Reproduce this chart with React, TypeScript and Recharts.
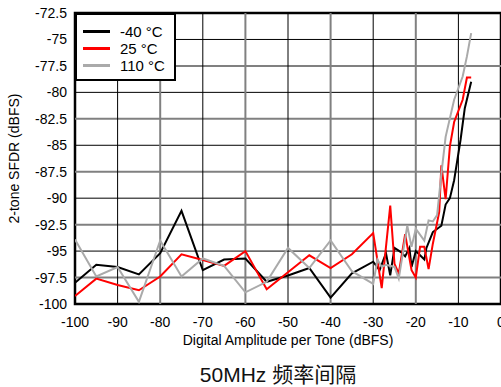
import React from "react";
import {
  LineChart,
  Line,
  XAxis,
  YAxis,
  ReferenceLine,
  ReferenceArea,
  Label,
} from "recharts";

const xTicks = [-100, -90, -80, -70, -60, -50, -40, -30, -20, -10, 0];
const yTicks = [-100, -97.5, -95, -92.5, -90, -87.5, -85, -82.5, -80, -77.5, -75, -72.5];

const seriesNames = ["-40 °C", "25 °C", "110 °C"];
const seriesColors = ["#000000", "#ff0000", "#aaaaaa"];

const coldX = [-100, -95, -90, -85, -80, -75, -70, -65, -60, -55, -50, -45, -40, -35, -30, -28.5, -27, -26, -25, -23.5, -22.5, -21.5, -21, -20, -19, -18, -17.5, -16, -14, -13, -12, -11, -9.5, -8.5, -7];
const coldY = [-98.0, -96.3, -96.5, -97.2, -95.2, -91.2, -96.8, -95.8, -95.7, -97.9, -97.3, -96.6, -99.4, -97.1, -96.0, -96.8, -95.2, -97.3, -94.7, -95.1, -95.5, -94.7, -96.5, -95.0, -95.4, -95.8, -94.7, -93.2, -92.6, -90.6, -90.0, -88.3, -84.5, -81.5, -79.0];

const roomX = [-100, -95, -90, -85, -80, -75, -70, -65, -60, -55, -50, -45, -40, -35, -30, -28, -26, -25, -24, -22.5, -21, -20, -19, -18, -17, -16, -14.5, -14, -13, -12, -11, -9, -8, -7];
const roomY = [-99.25, -97.6, -98.2, -98.7, -97.4, -95.3, -95.85, -96.4, -95.0, -98.6, -97.0, -95.4, -96.6, -95.3, -93.3, -98.5, -90.7, -96.2, -97.1, -93.4, -96.8, -97.5, -94.6, -94.6, -96.7, -94.3, -91.3, -86.9, -90.1, -85.1, -82.8, -80.7, -78.6, -78.6];

const hotX = [-100, -95, -90, -85, -80, -75, -70, -65, -60, -55, -50, -45, -40, -35, -30, -29, -28, -27, -25, -24, -22, -21, -20, -18, -17, -16, -15, -14, -13, -11, -9, -8, -7];
const hotY = [-93.9, -97.4, -96.5, -99.8, -94.0, -97.4, -95.7, -96.4, -98.9, -97.9, -94.7, -96.6, -94.0, -96.9, -98.1, -95.8, -96.5, -96.3, -96.5, -97.6, -92.6, -94.6, -92.9, -94.0, -92.1, -92.2, -91.6, -87.7, -84.2, -80.7, -78.5, -76.6, -74.4];

const toRows = (xs: number[], ys: number[]) => xs.map((x, i) => ({ x, y: ys[i] }));
const series = [toRows(coldX, coldY), toRows(roomX, roomY), toRows(hotX, hotY)];

const FONT = "'Liberation Sans', Arial, sans-serif";

export default function App() {
  return (
    <div
      style={{
        position: "absolute",
        left: 0,
        top: 0,
        width: 501,
        height: 387,
        overflow: "hidden",
        background: "#fff",
        fontFamily: FONT,
      }}
    >
      <LineChart
        width={540}
        height={387}
        margin={{ top: 13, right: 39, bottom: 42, left: 0 }}
        style={{ fontFamily: FONT }}
      >
        <XAxis
          dataKey="x"
          type="number"
          domain={[-100, 0]}
          ticks={xTicks}
          allowDataOverflow
          axisLine={false}
          tickLine={false}
          tickMargin={7}
          height={41}
          tick={{ fontSize: 14, fill: "#000" }}
        >
          <Label
            value="Digital Amplitude per Tone (dBFS)"
            position="insideBottom"
            offset={0}
            style={{ fontSize: 14, fill: "#000" }}
          />
        </XAxis>
        <YAxis
          type="number"
          domain={[-100, -72.5]}
          ticks={yTicks}
          allowDataOverflow
          axisLine={false}
          tickLine={false}
          width={75}
          interval={0}
          tick={{ fontSize: 14, fill: "#000" }}
        >
          <Label
            content={({ viewBox }: any) => {
              const cy = viewBox.y + viewBox.height / 2;
              return (
                <text
                  x={14}
                  y={cy}
                  transform={`rotate(-90 14 ${cy})`}
                  textAnchor="middle"
                  dominantBaseline="central"
                  fontSize={14}
                  fill="#000"
                >
                  2-tone SFDR (dBFS)
                </text>
              );
            }}
          />
        </YAxis>
        {yTicks.slice(1, -1).map((v) => (
          <ReferenceLine
            key={"h" + v}
            y={v}
            stroke={v % 5 === 0 ? "#000" : "#808080"}
            strokeWidth={v % 5 === 0 ? 1 : 2}
          />
        ))}
        {xTicks.slice(1, -1).map((v, i) => (
          <ReferenceLine
            key={"v" + v}
            x={v}
            stroke={i % 2 === 0 ? "#000" : "#808080"}
            strokeWidth={i % 2 === 0 ? 1 : 2}
          />
        ))}
        {series.map((d, i) => (
          <Line
            key={seriesNames[i]}
            data={d}
            dataKey="y"
            name={seriesNames[i]}
            stroke={seriesColors[i]}
            strokeWidth={2}
            dot={false}
            isAnimationActive={false}
          />
        ))}
        <ReferenceArea
          x1={-100}
          x2={0}
          y1={-100}
          y2={-72.5}
          fill="none"
          stroke="#000"
          strokeWidth={2.5}
          ifOverflow="visible"
        />
      </LineChart>
      <div
        style={{
          position: "absolute",
          left: 75,
          top: 13,
          width: 101,
          height: 68,
          boxSizing: "border-box",
          border: "2px solid #000",
          background: "#fff",
          paddingTop: 8,
        }}
      >
        {seriesNames.map((n, i) => (
          <div
            key={n}
            style={{ display: "flex", alignItems: "center", height: 17, fontSize: 15 }}
          >
            <span
              style={{
                display: "inline-block",
                width: 27,
                height: 0,
                borderTop: `3px solid ${seriesColors[i]}`,
                marginLeft: 6,
                marginRight: 10,
              }}
            />
            <span>{n}</span>
          </div>
        ))}
      </div>
      <div
        style={{
          position: "absolute",
          left: 0,
          width: 556,
          top: 358,
          textAlign: "center",
          fontSize: 21,
          color: "#111",
          fontFamily: "'Liberation Sans', 'Noto Sans CJK SC', sans-serif",
          whiteSpace: "nowrap",
        }}
      >
        50MHz 频率间隔
      </div>
    </div>
  );
}
